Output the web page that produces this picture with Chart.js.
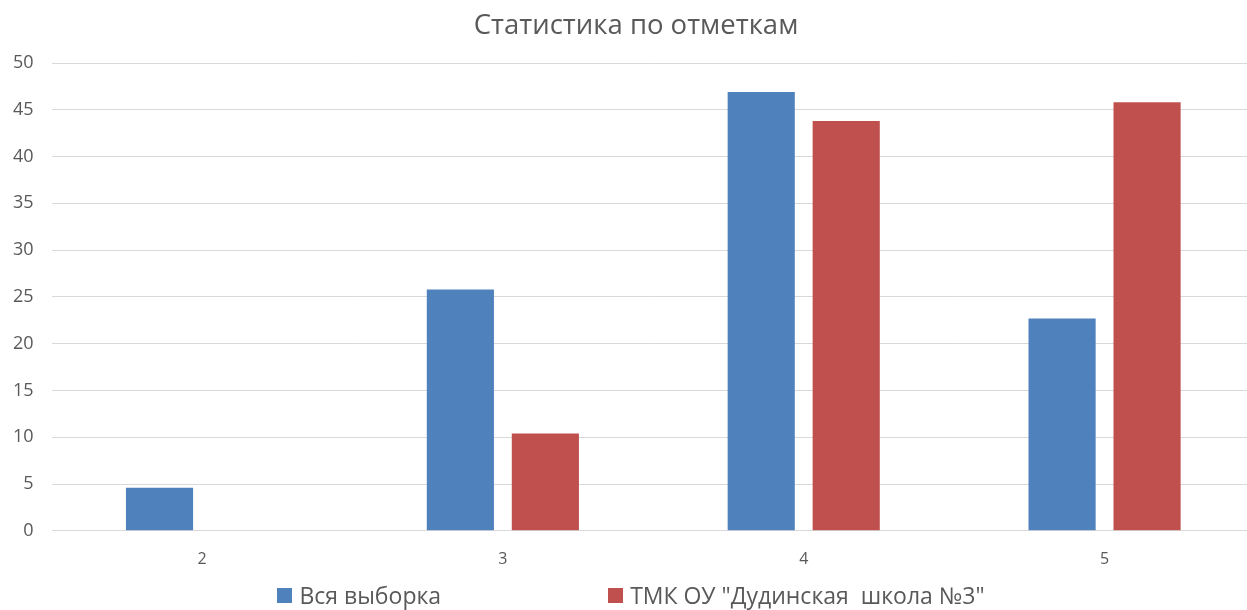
<!DOCTYPE html>
<html>
<head>
<meta charset="utf-8">
<title>Статистика по отметкам</title>
<script src="https://cdn.jsdelivr.net/npm/chart.js"></script>
<style>
  html, body { margin: 0; padding: 0; background: #fff; overflow: hidden; }
  #wrap { position: relative; width: 1262px; height: 610px; }
  #legend {
    position: absolute; left: 0; top: 579px; width: 1262px;
    display: flex; justify-content: center; align-items: center;
    font-family: "Open Sans", sans-serif; font-size: 23px; color: #595959;
    white-space: pre;
  }
  .item { display: flex; align-items: center; }
  .item + .item { margin-left: 167px; }
  .box { width: 15px; height: 15px; margin-right: 7px; }
</style>
</head>
<body>
<div id="wrap">
  <canvas id="chart" width="1262" height="610"></canvas>
  <div id="legend"></div>
</div>
<script>
  // values
  const categories = ['2', '3', '4', '5'];
  const allSample = [4.6, 25.8, 46.9, 22.7];
  const school = [0, 10.4, 43.8, 45.8];
  const seriesNames = ['Вся выборка', 'ТМК ОУ "Дудинская  школа №3"'];
  const seriesColors = ['#4F81BD', '#C0504D'];

  const textColor = '#595959';
  const fontFamily = '"Open Sans", sans-serif';

  // the original title sits a little right of the canvas centre
  const titleShift = {
    id: 'titleShift',
    afterLayout(chart) {
      if (chart.titleBlock) chart.titleBlock.left += 22;
    }
  };

  const ctx = document.getElementById('chart').getContext('2d');
  const chart = new Chart(ctx, {
    type: 'bar',
    data: {
      labels: categories,
      datasets: [
        { label: seriesNames[0], data: allSample, backgroundColor: seriesColors[0] },
        { label: seriesNames[1], data: school, backgroundColor: seriesColors[1] }
      ]
    },
    options: {
      responsive: false,
      animation: false,
      categoryPercentage: 0.565,
      barPercentage: 0.79,
      layout: { padding: { left: -5, right: 7, top: 0, bottom: 22 } },
      plugins: {
        legend: { display: false },
        tooltip: { enabled: false },
        title: {
          display: true,
          text: 'Статистика по отметкам',
          color: textColor,
          font: { family: fontFamily, size: 27.5, weight: 'normal' },
          padding: { top: 10, bottom: 20 }
        }
      },
      scales: {
        x: {
          grid: { display: false, drawTicks: false },
          border: { display: false },
          ticks: { color: textColor, font: { family: fontFamily, size: 16 }, padding: 19 }
        },
        y: {
          min: 0,
          max: 50,
          ticks: { stepSize: 5, color: textColor, font: { family: fontFamily, size: 18 }, padding: 18 },
          grid: { color: '#D9D9D9', drawTicks: false },
          border: { display: false }
        }
      }
    },
    plugins: [titleShift]
  });

  // legend drawn as html, Excel spaces the entries widely
  const legendEl = document.getElementById('legend');
  chart.data.datasets.forEach(ds => {
    const item = document.createElement('div');
    item.className = 'item';
    const box = document.createElement('span');
    box.className = 'box';
    box.style.background = ds.backgroundColor;
    const txt = document.createElement('span');
    txt.textContent = ds.label;
    item.appendChild(box);
    item.appendChild(txt);
    legendEl.appendChild(item);
  });
</script>
</body>
</html>
